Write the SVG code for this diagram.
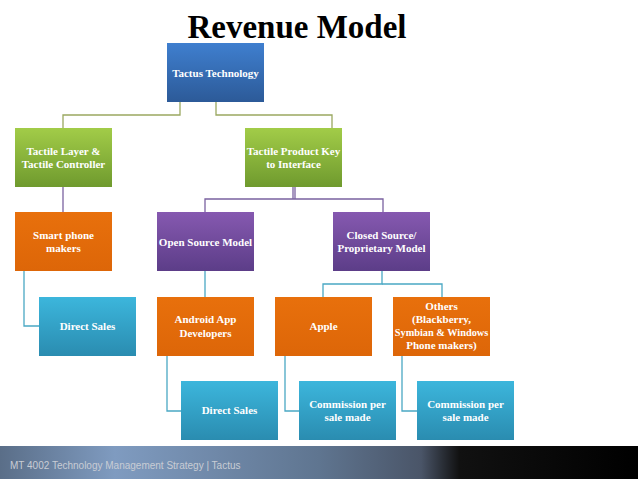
<svg xmlns="http://www.w3.org/2000/svg" width="638" height="479" viewBox="0 0 638 479">
<defs>
<linearGradient id="gb" x1="0" y1="0" x2="0" y2="1"><stop offset="0" stop-color="#3f7fcf"/><stop offset="1" stop-color="#2c5a98"/></linearGradient>
<linearGradient id="gg" x1="0" y1="0" x2="0" y2="1"><stop offset="0" stop-color="#a2cc48"/><stop offset="1" stop-color="#6f9a2e"/></linearGradient>
<linearGradient id="go" x1="0" y1="0" x2="0" y2="1"><stop offset="0" stop-color="#e8700c"/><stop offset="1" stop-color="#dd6608"/></linearGradient>
<linearGradient id="gp" x1="0" y1="0" x2="0" y2="1"><stop offset="0" stop-color="#8659b0"/><stop offset="1" stop-color="#5c3d88"/></linearGradient>
<linearGradient id="gc" x1="0" y1="0" x2="0" y2="1"><stop offset="0" stop-color="#3cb6dc"/><stop offset="1" stop-color="#2a8cb0"/></linearGradient>
<linearGradient id="gf" x1="0" y1="0" x2="1" y2="0"><stop offset="0" stop-color="#5a6e88"/><stop offset="0.18" stop-color="#7f9bc0"/><stop offset="0.5" stop-color="#5f7590"/><stop offset="0.66" stop-color="#4a5568"/><stop offset="0.72" stop-color="#111"/><stop offset="1" stop-color="#000"/></linearGradient>
</defs>
<style>
text{font-family:"Liberation Serif",serif;font-weight:bold;fill:#fff;font-size:11px;text-anchor:middle}
.c line,.c polyline{fill:none;stroke-width:1.3}
</style>
<rect width="638" height="479" fill="#fff"/>
<text x="297" y="38" style="font-size:33px;fill:#000">Revenue Model</text>
<g class="c">
<polyline points="180,102 180,115 63,115 63,128" stroke="#9aa860"/>
<polyline points="216,102 216,115 332,115 332,128" stroke="#9aa860"/>
<polyline points="63,187 63,212" stroke="#7a62a0"/>
<polyline points="293,187 293,199" stroke="#7a62a0"/>
<polyline points="295,187 295,199" stroke="#7a62a0"/>
<polyline points="205,212 205,199 383,199 383,212" stroke="#7a62a0"/>
<polyline points="24,271 24,326 39,326" stroke="#4aa8c4"/>
<polyline points="205,271 205,297" stroke="#4aa8c4"/>
<polyline points="382,271 382,284 323,284 323,297" stroke="#4aa8c4"/>
<polyline points="382,284 442,284 442,297" stroke="#4aa8c4"/>
<polyline points="167,356 167,411 181,411" stroke="#4aa8c4"/>
<polyline points="285,356 285,411 299,411" stroke="#4aa8c4"/>
<polyline points="402,356 402,411 417,411" stroke="#4aa8c4"/>
</g>
<g id="n1"><rect x="167" y="43" width="97" height="59" fill="url(#gb)"/><text x="215.5" y="77">Tactus Technology</text></g>
<g id="n2"><rect x="15" y="128" width="97" height="59" fill="url(#gg)"/><text x="63.5" y="155">Tactile Layer &amp;</text><text x="63.5" y="168">Tactile  Controller</text></g>
<g id="n3"><rect x="245" y="128" width="97" height="59" fill="url(#gg)"/><text x="293.5" y="155">Tactile Product Key</text><text x="293.5" y="168">to Interface</text></g>
<g id="n4"><rect x="15" y="212" width="97" height="59" fill="url(#go)"/><text x="63.5" y="239">Smart phone</text><text x="63.5" y="252">makers</text></g>
<g id="n5"><rect x="157" y="212" width="97" height="59" fill="url(#gp)"/><text x="205.5" y="246">Open Source Model</text></g>
<g id="n6"><rect x="333" y="212" width="97" height="59" fill="url(#gp)"/><text x="381.5" y="239">Closed Source/</text><text x="381.5" y="252">Proprietary Model</text></g>
<g id="n7"><rect x="39" y="297" width="97" height="59" fill="url(#gc)"/><text x="87.5" y="330">Direct Sales</text></g>
<g id="n8"><rect x="157" y="297" width="97" height="59" fill="url(#go)"/><text x="205.5" y="323">Android App</text><text x="205.5" y="337">Developers</text></g>
<g id="n9"><rect x="275" y="297" width="97" height="59" fill="url(#go)"/><text x="323.5" y="330">Apple</text></g>
<g id="n10"><rect x="393" y="297" width="97" height="59" fill="url(#go)"/><text x="441.5" y="310">Others</text><text x="441.5" y="323">(Blackberry,</text><text x="441.5" y="336" style="font-size:10.3px">Symbian &amp; Windows</text><text x="441.5" y="349">Phone makers)</text></g>
<g id="n11"><rect x="181" y="381" width="97" height="59" fill="url(#gc)"/><text x="229.5" y="414">Direct Sales</text></g>
<g id="n12"><rect x="299" y="381" width="97" height="59" fill="url(#gc)"/><text x="347.5" y="408">Commission per</text><text x="347.5" y="421">sale made</text></g>
<g id="n13"><rect x="417" y="381" width="97" height="59" fill="url(#gc)"/><text x="465.5" y="408">Commission per</text><text x="465.5" y="421">sale made</text></g>
<rect x="0" y="446" width="638" height="33" fill="url(#gf)"/>
<text x="10" y="469" style="font-family:'Liberation Sans',sans-serif;font-weight:normal;font-size:10px;fill:#c8ccd4;text-anchor:start">MT 4002 Technology  Management Strategy | Tactus</text>
</svg>
